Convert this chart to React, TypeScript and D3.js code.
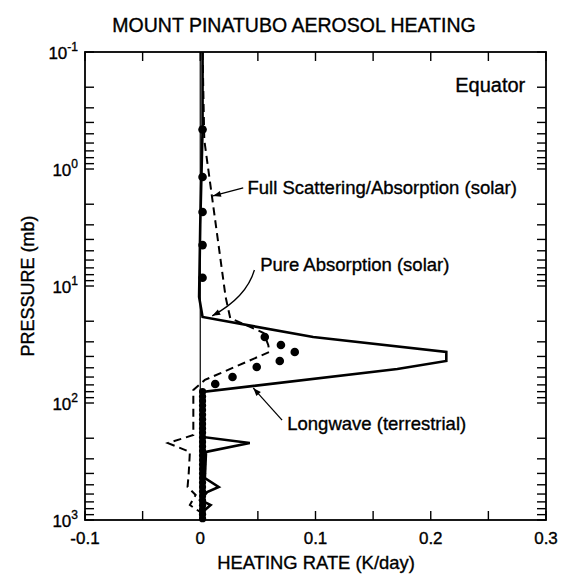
import React from "react";
import * as d3 from "d3";

// ---- data (heating rate K/day vs pressure mb) ----
const longwaveP = [0.1, 0.46, 3.0, 12.4, 18.4, 27.3, 36.6, 43.7, 51.2, 80.5, 195, 220, 262, 438, 522, 577, 674, 745, 855, 1000];
const longwaveV = [0.002, 0.002, 0.0, -0.001, 0.002, 0.098, 0.2135, 0.2135, 0.171, 0.002, 0.002, 0.043, 0.005, 0.004, 0.016, 0.006, 0.0, 0.009, 0.002, 0.002];

const scatterP = [0.1, 0.565, 1.67, 12.4, 18.8, 25.2, 31.9, 36.6, 63.5, 77.4, 188, 220, 262, 397, 522, 611, 745, 855, 1000];
const scatterV = [0.002, 0.0035, 0.01, 0.022, 0.026, 0.055, 0.059, 0.06, 0.004, -0.006, -0.006, -0.028, -0.009, -0.01, -0.011, -0.004, -0.009, 0.0, 0.0];

const absorbP = [0.46, 1.17, 2.33, 4.47, 8.5, 27.3, 31.9, 36.6, 43.7, 49.2, 60, 68.9,
  80, 88, 96, 105, 115, 126, 138, 151, 165, 180, 197, 215, 235, 257, 281, 307, 336, 367, 401, 438, 479, 523, 572, 625, 683, 747, 816, 892, 975];
const absorbV = [0.002, 0.002, 0.002, 0.002, 0.002, 0.056, 0.07, 0.082, 0.069, 0.049, 0.028, 0.013,
  0.002, 0.002, 0.002, 0.002, 0.002, 0.002, 0.002, 0.002, 0.002, 0.002, 0.002, 0.002, 0.002, 0.002, 0.002, 0.002, 0.002, 0.002, 0.002, 0.002, 0.002, 0.002, 0.002, 0.002, 0.002, 0.002, 0.002, 0.002, 0.002];

const xTicks = [-0.1, 0, 0.1, 0.2, 0.3];
const xTickLabels = ["-0.1", "0", "0.1", "0.2", "0.3"];
const xMinorTicks = [-0.05, 0.05, 0.15, 0.25];
const yTicks = [0.1, 1, 10, 100, 1000];
const yTickExps = ["-1", "0", "1", "2", "3"];

const title = "MOUNT PINATUBO AEROSOL HEATING";
const xTitle = "HEATING RATE (K/day)";
const yTitle = "PRESSURE (mb)";
const regionLabel = "Equator";
const labelScatter = "Full Scattering/Absorption (solar)";
const labelAbsorb = "Pure Absorption (solar)";
const labelLong = "Longwave (terrestrial)";

const W = 563, H = 578;
const L = 85, R = 546, T = 52, B = 520;
const FONT = "'Liberation Sans', Arial, Helvetica, sans-serif";
const TS = { stroke: "#000", strokeWidth: 0.35 };

export default function App() {
  const x = d3.scaleLinear().domain([-0.1, 0.3]).range([L, R]);
  const y = d3.scaleLog().domain([0.1, 1000]).range([T, B]);

  const line = d3.line<[number, number]>().x((d) => x(d[0])).y((d) => y(d[1]));
  const lw = line(longwaveV.map((v, i) => [v, longwaveP[i]] as [number, number])) || "";
  const sc = line(scatterV.map((v, i) => [v, scatterP[i]] as [number, number])) || "";

  const minorY: number[] = [];
  for (let e = -1; e < 3; e++) for (let k = 2; k <= 9; k++) minorY.push(k * Math.pow(10, e));

  const tl = 9;

  // annotation anchors (data space)
  const sTip = [x(0.011), y(1.7)], sTail = [x(0.0373), y(1.45)];
  const aTip = [x(0.0104), y(18.0)], aTail = [x(0.047), y(7.3)];
  const lTip = [x(0.046), y(74.5)], lTail = [x(0.071), y(140)];

  const arrowHead = (tip: number[], from: number[]) => {
    const ang = Math.atan2(tip[1] - from[1], tip[0] - from[0]);
    const len = 8, wd = 3;
    const bx = tip[0] - len * Math.cos(ang), by = tip[1] - len * Math.sin(ang);
    const px = -Math.sin(ang) * wd, py = Math.cos(ang) * wd;
    return `M${tip[0]},${tip[1]}L${bx + px},${by + py}L${bx - px},${by - py}Z`;
  };
  const aCtrl = [x(0.04), y(12.5)];

  return (
    <svg width={W} height={H} style={{ position: "absolute", left: 0, top: 0, background: "#fff" }} fontFamily={FONT}>
      <rect x={0} y={0} width={W} height={H} fill="#fff" />
      <text x={294} y={32} fontSize={19.5} textAnchor="middle" fill="#000" {...TS}>{title}</text>

      {/* zero line */}
      <line x1={x(0)} x2={x(0)} y1={T} y2={B} stroke="#000" strokeWidth={1.2} />

      {/* series */}
      <path d={sc} fill="none" stroke="#000" strokeWidth={2} strokeDasharray="8,5" />
      <path d={lw} fill="none" stroke="#000" strokeWidth={2.6} strokeLinejoin="miter" />
      {absorbV.map((v, i) => (
        <circle key={i} cx={x(v)} cy={y(absorbP[i])} r={i < 12 ? 4.3 : 3.6} fill="#000" />
      ))}

      {/* frame */}
      <rect x={L} y={T} width={R - L} height={B - T} fill="none" stroke="#000" strokeWidth={1.8} />

      {/* x ticks */}
      {xTicks.concat(xMinorTicks).map((t, i) => (
        <g key={"xt" + i}>
          <line x1={x(t)} x2={x(t)} y1={B} y2={B - tl} stroke="#000" strokeWidth={1.4} />
          <line x1={x(t)} x2={x(t)} y1={T} y2={T + tl} stroke="#000" strokeWidth={1.4} />
        </g>
      ))}
      {xTicks.map((t, i) => (
        <text key={"xl" + i} x={x(t)} y={544} fontSize={17} textAnchor="middle" fill="#000" {...TS}>{xTickLabels[i]}</text>
      ))}

      {/* y ticks */}
      {yTicks.concat(minorY).map((t, i) => (
        <g key={"yt" + i}>
          <line x1={L} x2={L + tl} y1={y(t)} y2={y(t)} stroke="#000" strokeWidth={1.4} />
          <line x1={R} x2={R - tl} y1={y(t)} y2={y(t)} stroke="#000" strokeWidth={1.4} />
        </g>
      ))}
      {yTicks.map((t, i) => (
        <text key={"yl" + i} x={78} y={y(t) + 7} fontSize={17} textAnchor="end" fill="#000" {...TS}>
          10<tspan fontSize={12} dy={-8}>{yTickExps[i]}</tspan>
        </text>
      ))}

      <text x={316} y={569} fontSize={18.4} textAnchor="middle" fill="#000" {...TS}>{xTitle}</text>
      <text transform={`translate(34,${(T + B) / 2}) rotate(-90)`} fontSize={18} textAnchor="middle" fill="#000" {...TS}>{yTitle}</text>

      <text x={x(0.282)} y={y(0.22)} fontSize={20} textAnchor="end" fill="#000" {...TS}>{regionLabel}</text>

      {/* annotations */}
      <text x={x(0.041)} y={y(1.64)} fontSize={18.5} fill="#000" {...TS}>{labelScatter}</text>
      <line x1={sTail[0]} y1={sTail[1]} x2={sTip[0]} y2={sTip[1]} stroke="#000" strokeWidth={1.3} />
      <path d={arrowHead(sTip, sTail)} fill="#000" />

      <text x={x(0.052)} y={y(7.45)} fontSize={18.5} fill="#000" {...TS}>{labelAbsorb}</text>
      <path d={`M${aTail[0]},${aTail[1]}Q${aCtrl[0]},${aCtrl[1]} ${aTip[0]},${aTip[1]}`} fill="none" stroke="#000" strokeWidth={1.3} />
      <path d={arrowHead(aTip, aCtrl)} fill="#000" />

      <text x={x(0.0755)} y={y(170)} fontSize={18.5} fill="#000" {...TS}>{labelLong}</text>
      <line x1={lTail[0]} y1={lTail[1]} x2={lTip[0]} y2={lTip[1]} stroke="#000" strokeWidth={1.3} />
      <path d={arrowHead(lTip, lTail)} fill="#000" />
    </svg>
  );
}
